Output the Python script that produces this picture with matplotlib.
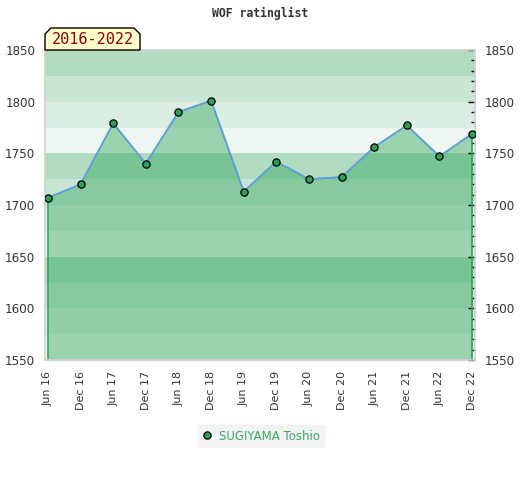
import matplotlib
matplotlib.use("Agg")
import matplotlib.pyplot as plt
from matplotlib.patches import Polygon
import numpy as np

# data
periods = ['Jun 16', 'Dec 16', 'Jun 17', 'Dec 17', 'Jun 18', 'Dec 18', 'Jun 19',
           'Dec 19', 'Jun 20', 'Dec 20', 'Jun 21', 'Dec 21', 'Jun 22', 'Dec 22']
rating = [1707, 1720, 1779, 1740, 1790, 1801, 1713,
          1742, 1725, 1727, 1756, 1777, 1747, 1769]
player = 'SUGIYAMA Toshio'
badge = '2016-2022'
y_min, y_max = 1550, 1850

# band colours within each 100 block, top -> bottom
band_cols = ['#b2dcc2', '#c9e5d3', '#dcede2', '#eef7f1']
fill_col = '#2ea55a'
mark_col = '#2f9e57'
line_col = '#5b9fd6'

fig = plt.figure(figsize=(5.2, 4.8), dpi=100)
ax = fig.add_axes([45 / 520, 1 - 360 / 480, 430 / 520, 310 / 480])

x = np.arange(len(periods))

for lo in range(y_min, y_max, 25):
    idx = 3 - ((lo - 1550) % 100) // 25
    ax.axhspan(lo, lo + 25, color=band_cols[idx], lw=0, zorder=0)

ax.fill_between(x, y_min, rating, color=fill_col, alpha=0.43, lw=0, zorder=1)
ax.vlines([x[0], x[-1]], y_min, [rating[0], rating[-1]], color=fill_col, lw=1.2, zorder=2)
ax.plot(x, rating, color=line_col, lw=1.4, zorder=3)
ax.plot(x, rating, 'o', ms=5.2, mfc=mark_col, mec='black', mew=0.9, zorder=4,
        label=player)

ax.set_xlim(-0.09, len(periods) - 1 + 0.09)
ax.set_ylim(y_min, y_max)
ax.set_xticks(x)
ax.set_xticklabels(periods, rotation=90, fontsize=8, color='#333333')
ax.set_yticks(range(y_min, y_max + 1, 50))
ax.tick_params(axis='x', length=0, pad=8)
ax.tick_params(axis='y', which='both', left=False, right=True, labelleft=True,
               labelright=True, direction='in', labelsize=8.6, labelcolor='#333333')
ax.tick_params(axis='y', which='major', length=5, width=1, pad=7)
ax.set_yticks(range(y_min, y_max + 1, 10), minor=True)
ax.tick_params(axis='y', which='minor', length=3, width=1, left=False, right=True)
for s in ax.spines.values():
    s.set_color('#d0d0d0')
    s.set_linewidth(1.2)

fig.text(0.5, 1 - 13 / 480, 'WOF ratinglist', ha='center', va='center',
         family='DejaVu Sans Mono', fontweight='bold', fontsize=8.3, color='#333333')

# badge with clipped top corners
bx0, bx1 = 45 / 520, 140 / 520
by0, by1 = 1 - 50 / 480, 1 - 28 / 480
cx, cy = 6 / 520, 6 / 480
badge_shape = Polygon([(bx0, by0), (bx0, by1 - cy), (bx0 + cx, by1), (bx1 - cx, by1),
                       (bx1, by1 - cy), (bx1, by0)], closed=True,
                      transform=fig.transFigure, facecolor='#ffffcc',
                      edgecolor='black', lw=1, zorder=5)
fig.patches.append(badge_shape)
fig.text((bx0 + bx1) / 2, (by0 + by1) / 2 - 1 / 480, badge, ha='center', va='center',
         family='DejaVu Sans Mono', fontsize=11, color='#8b0000', zorder=6)

leg = ax.legend(loc='center', bbox_to_anchor=(261 / 520, 1 - 436 / 480),
                bbox_transform=fig.transFigure, frameon=True, fontsize=8.5,
                handlelength=0.8, handletextpad=0.6, borderpad=0.4,
                fancybox=False)
leg.get_frame().set_facecolor('#f0f0f0')
leg.get_frame().set_edgecolor('#f0f0f0')
for t in leg.get_texts():
    t.set_color('#3aa860')

fig.savefig('out.png', dpi=100)
